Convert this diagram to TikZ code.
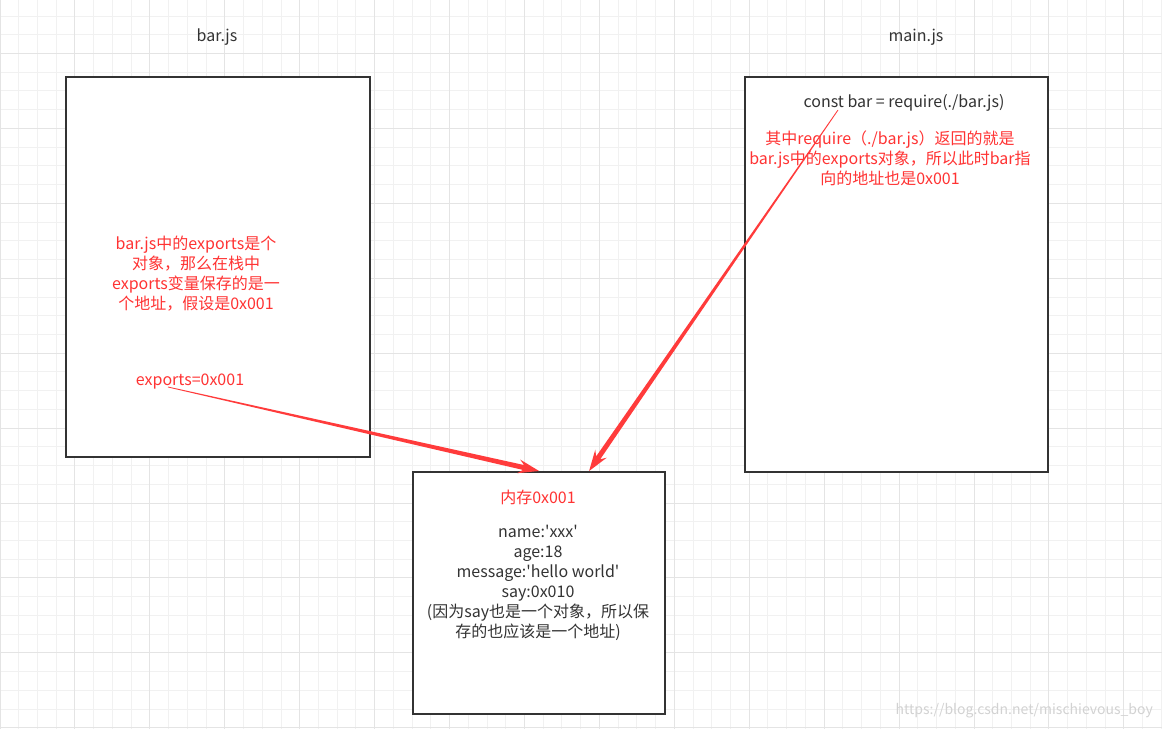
\documentclass[tikz,border=0pt]{standalone}
\usepackage{fontspec}
\setmainfont{Noto Sans CJK SC}[Ligatures=TeXOff]
\usetikzlibrary{calc}
\definecolor{ink}{HTML}{333333}
\definecolor{redtxt}{HTML}{FF3333}
\definecolor{arrowred}{HTML}{FF3B3B}
\definecolor{gridminor}{HTML}{F1F1F1}
\definecolor{gridmajor}{HTML}{E4E4E4}
\newcommand\taparrow[2]{%
  \path coordinate (h) at ($(#2)!16pt!(#1)$) coordinate (w) at ($(#2)!21pt!(#1)$);
  \fill[arrowred] ($(#1)!0.4pt!90:(#2)$) -- ($(h)!2.5pt!90:(#2)$) -- ($(w)!7pt!90:(#2)$) -- (#2)
    -- ($(w)!7pt!-90:(#2)$) -- ($(h)!2.5pt!-90:(#2)$) -- ($(#1)!0.4pt!-90:(#2)$) -- cycle;}
\begin{document}
\begin{tikzpicture}[x=1pt,y=-1pt,
  box/.style={draw=ink,line width=2.2pt,anchor=north west,inner sep=0pt},
  lbl/.style={text=ink,font=\fontsize{16}{20}\selectfont,align=center,inner sep=0pt},
  note/.style={text=redtxt,font=\fontsize{16}{20}\selectfont,align=center,inner sep=0pt},
  minorline/.style={draw=gridminor,line width=0.9pt},
  majorline/.style={draw=gridmajor,line width=0.9pt}
]
\useasboundingbox (0,0) rectangle (1162,729);
\fill[white] (0,0) rectangle (1162,729);
\begin{scope}
\clip (0,0) rectangle (1162,729);
\foreach \i in {0,...,62} { \draw[minorline] (\i*18.73,0) -- (\i*18.73,729); }
\foreach \i in {-1,...,39} { \draw[minorline] (0,16+\i*18.73) -- (1162,16+\i*18.73); }
\foreach \i in {0,...,15} { \draw[majorline] (\i*74.92,0) -- (\i*74.92,729); }
\foreach \i in {0,...,10} { \draw[majorline] (0,-21.46+\i*74.92) -- (1162,-21.46+\i*74.92); }
\end{scope}

\node[box,fill=white,minimum width=304pt,minimum height=380pt] (barbox) at (65,76) {};
\node[box,fill=white,minimum width=303pt,minimum height=395pt] (mainbox) at (744,76) {};
\node[box,fill=white,minimum width=252pt,minimum height=242pt] (mem) at (412,471) {};

\node[lbl] (tbar) at (217,37) {bar.js};
\node[lbl] (tmain) at (916,37) {main.js};
\node[note] (n1) at (196,274) {bar.js中的exports是个\\对象，那么在栈中\\exports变量保存的是一\\个地址，假设是0x001};
\node[note] (ex) at (190,382) {exports=0x001};
\node[lbl] (req) at (904,103) {const bar = require(./bar.js)};
\node[note] (n2) at (890,158) {其中require（./bar.js）返回的就是\\bar.js中的exports对象，所以此时bar指\\向的地址也是0x001};
\node[note] (memt) at (538,497) {内存0x001};
\node[lbl] (fields) at (538,583) {name:'xxx'\\age:18\\message:'hello world'\\say:0x010\\(因为say也是一个对象，所以保\\存的也应该是一个地址)};
\node[text=gray!35,font=\fontsize{14}{16}\selectfont,anchor=east,inner sep=0pt] (wm) at (1153,711) {https://blog.csdn.net/mischievous\_boy};

\coordinate (s1) at (168,387);
\coordinate (e1) at (mem.north);
\coordinate (s2) at (838,110);
\coordinate (e2) at ($(mem.north)+(50,0)$);
\taparrow{s1}{e1}
\taparrow{s2}{e2}
\end{tikzpicture}
\end{document}
